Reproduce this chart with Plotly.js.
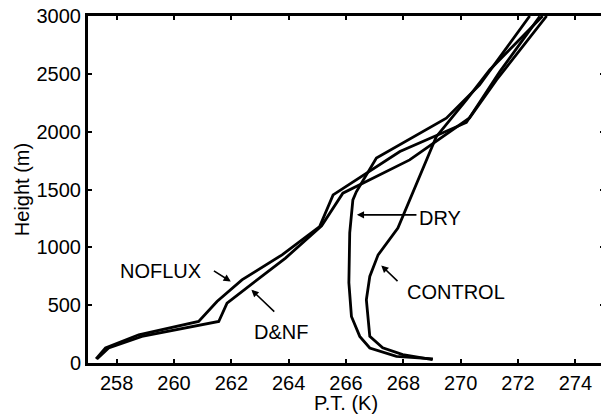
<!DOCTYPE html>
<html>
<head>
<meta charset="utf-8">
<script src="https://cdn.plot.ly/plotly-3.0.1.min.js"></script>
<style>
html,body{margin:0;padding:0;overflow:hidden;background:#fff;}
#chart{width:610px;height:414px;}
</style>
</head>
<body>
<div id="chart"></div>
<script>
// Potential temperature profiles (K) vs height (m)
const noflux_pt = [257.28, 257.61, 258.77, 260.86, 261.50, 262.37, 263.77, 265.08, 265.55, 267.88, 270.20, 271.36, 272.76];
const noflux_h  = [35, 130, 244, 359, 532, 719, 935, 1180, 1453, 1828, 2080, 2517, 2997];

const dnf_pt = [257.31, 257.72, 258.88, 261.56, 261.85, 262.84, 263.89, 265.15, 265.89, 268.22, 270.31, 271.25, 273.0];
const dnf_h  = [35, 130, 230, 359, 518, 705, 907, 1186, 1468, 1756, 2119, 2447, 3000];

const dry_pt = [269.03, 267.76, 266.83, 266.48, 266.19, 266.10, 266.13, 266.24, 266.36, 267.06, 269.50, 270.66, 272.41];
const dry_h  = [35, 57, 130, 230, 402, 694, 1125, 1410, 1480, 1771, 2116, 2404, 3000];

const control_pt = [269.02, 267.98, 267.28, 266.83, 266.71, 266.83, 267.12, 267.81, 269.15, 270.20, 271.01, 272.86];
const control_h  = [29, 72, 132, 230, 547, 748, 935, 1166, 1957, 2275, 2533, 3000];

const xTicks = [258, 260, 262, 264, 266, 268, 270, 272, 274];
const yTicks = [0, 500, 1000, 1500, 2000, 2500, 3000];

const series = [
  {name: 'NOFLUX', x: noflux_pt, y: noflux_h},
  {name: 'D&NF', x: dnf_pt, y: dnf_h},
  {name: 'DRY', x: dry_pt, y: dry_h},
  {name: 'CONTROL', x: control_pt, y: control_h}
];

const traces = series.map(s => ({
  x: s.x, y: s.y, name: s.name, type: 'scatter', mode: 'lines',
  line: {color: '#000', width: 2.8}, showlegend: false, hoverinfo: 'skip'
}));

const font = {family: 'Liberation Sans, Arial, sans-serif', size: 20, color: '#000'};

function label(text, x, y) {
  return {text: text, x: x, y: y, xref: 'x', yref: 'y', showarrow: false,
          font: font, xanchor: 'center', yanchor: 'middle'};
}
function arrow(x0, y0, x1, y1) {
  return {text: '', x: x1, y: y1, ax: x0, ay: y0, xref: 'x', yref: 'y',
          axref: 'x', ayref: 'y', showarrow: true, arrowhead: 2, arrowsize: 0.9,
          arrowwidth: 1.6, arrowcolor: '#000', standoff: 0, startstandoff: 0};
}

const layout = {
  width: 610, height: 414,
  margin: {l: 88, r: 6, t: 16, b: 51},
  paper_bgcolor: '#fff', plot_bgcolor: '#fff',
  font: font,
  xaxis: {
    range: [257, 275], tickvals: xTicks, ticktext: xTicks.map(String),
    showgrid: false, zeroline: false, showline: true, linecolor: '#000', linewidth: 3,
    mirror: 'ticks', ticks: 'inside', ticklen: 4, tickwidth: 2, tickcolor: '#000',
    tickfont: font,
    title: {text: 'P.T. (K)', font: font, standoff: 0}
  },
  yaxis: {
    range: [0, 3000], tickvals: yTicks, ticktext: yTicks.map(String),
    showgrid: false, zeroline: false, showline: true, linecolor: '#000', linewidth: 3,
    mirror: 'ticks', ticks: 'inside', ticklen: 4, tickwidth: 2, tickcolor: '#000',
    tickfont: font,
    title: {text: 'Height (m)', font: font, standoff: 2}
  },
  annotations: [
    label('NOFLUX', 259.54, 793),
    label('D&NF', 263.72, 270),
    label('DRY', 269.28, 1257),
    label('CONTROL', 269.82, 612),
    arrow(261.34, 805, 261.98, 705),
    arrow(263.55, 432, 262.70, 633),
    arrow(268.51, 1281, 266.38, 1281),
    arrow(267.85, 696, 267.23, 843)
  ]
};

Plotly.newPlot('chart', traces, layout, {staticPlot: true, displayModeBar: false});
</script>
</body>
</html>
